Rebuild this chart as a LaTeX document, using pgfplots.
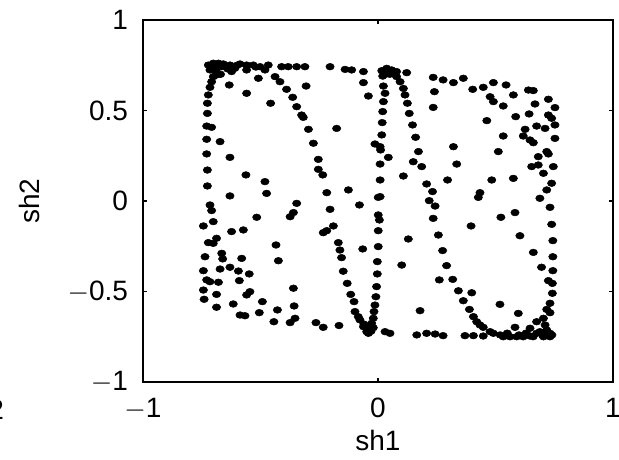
\documentclass[border=0pt]{standalone}
\usepackage{fontspec}
\setmainfont{Liberation Sans}
\usepackage{pgfplots}
\pgfplotsset{compat=1.18}

\pgfplotstableread{
x y
-0.722 0.751
-0.701 0.761
-0.679 0.761
-0.658 0.757
-0.715 0.724
-0.687 0.733
-0.665 0.742
-0.630 0.751
-0.609 0.733
-0.587 0.757
-0.559 0.751
-0.559 0.724
-0.531 0.751
-0.502 0.742
-0.467 0.751
-0.481 0.724
-0.438 0.687
-0.410 0.742
-0.382 0.742
-0.346 0.742
-0.311 0.742
-0.204 0.742
-0.140 0.727
-0.112 0.724
-0.062 0.715
0.016 0.720
0.037 0.733
0.058 0.724
0.079 0.715
0.122 0.709
-0.700 0.740
-0.690 0.720
-0.670 0.700
-0.640 0.730
-0.600 0.750
-0.520 0.740
0.040 0.710
0.050 0.700
0.030 0.700
0.060 0.710
0.020 0.690
0.070 0.700
-0.701 0.687
-0.687 0.696
-0.708 0.659
-0.715 0.628
-0.722 0.586
-0.726 0.540
-0.726 0.484
-0.729 0.414
-0.708 0.407
-0.729 0.341
-0.672 0.328
-0.729 0.260
-0.630 0.241
-0.726 0.171
-0.562 0.144
-0.481 0.107
-0.726 0.083
-0.630 0.028
-0.474 0.042
-0.623 0.715
-0.509 0.678
-0.417 0.659
-0.389 0.617
-0.363 0.573
-0.346 0.521
-0.325 0.475
-0.318 0.462
-0.296 0.396
-0.275 0.319
-0.254 0.230
-0.254 0.175
-0.235 0.144
-0.218 0.046
-0.633 0.641
-0.559 0.595
-0.457 0.540
-0.306 0.635
-0.176 0.401
-0.126 0.061
-0.062 0.654
-0.041 0.580
-0.013 0.315
0.009 0.300
0.044 0.241
0.023 0.635
0.030 0.595
0.023 0.549
0.020 0.494
0.018 0.433
0.016 0.365
0.011 0.282
0.009 0.204
0.009 0.116
0.009 0.024
0.079 0.687
0.094 0.659
0.108 0.622
0.115 0.586
0.125 0.540
0.133 0.484
0.147 0.420
0.160 0.352
0.172 0.273
0.150 0.217
0.186 0.190
0.207 0.094
0.232 0.052
0.108 0.138
0.235 0.683
0.277 0.669
0.321 0.654
0.363 0.678
0.240 0.604
0.235 0.517
0.321 0.300
0.335 0.204
0.296 0.116
0.403 0.617
0.448 0.628
0.491 0.654
0.545 0.641
0.477 0.576
0.491 0.549
0.533 0.525
0.576 0.586
0.640 0.613
0.661 0.610
0.725 0.562
0.668 0.536
0.753 0.516
0.463 0.444
0.586 0.466
0.643 0.481
0.725 0.475
0.739 0.457
0.626 0.396
0.675 0.414
0.711 0.401
0.753 0.420
0.533 0.359
0.618 0.359
0.647 0.337
0.661 0.322
0.753 0.346
0.512 0.273
0.682 0.245
0.718 0.273
0.725 0.260
0.654 0.190
0.682 0.199
0.746 0.190
0.704 0.153
0.739 0.098
0.484 0.116
0.576 0.125
0.718 0.061
0.434 0.046
0.427 0.020
0.689 0.015
-0.715 -0.022
-0.708 -0.053
-0.743 -0.138
-0.701 -0.114
-0.623 -0.169
-0.573 -0.160
-0.516 -0.090
-0.374 -0.087
-0.360 -0.064
-0.346 -0.013
-0.722 -0.230
-0.687 -0.206
-0.701 -0.234
-0.434 -0.243
-0.424 -0.330
-0.736 -0.308
-0.665 -0.289
-0.661 -0.320
-0.580 -0.317
-0.743 -0.385
-0.672 -0.376
-0.630 -0.366
-0.594 -0.387
-0.548 -0.403
-0.729 -0.436
-0.715 -0.446
-0.679 -0.449
-0.590 -0.440
-0.743 -0.492
-0.687 -0.516
-0.559 -0.519
-0.545 -0.501
-0.740 -0.543
-0.687 -0.587
-0.616 -0.569
-0.587 -0.630
-0.566 -0.634
-0.505 -0.617
-0.492 -0.556
-0.428 -0.602
-0.360 -0.482
-0.357 -0.580
-0.353 -0.648
-0.374 -0.672
-0.443 -0.667
-0.264 -0.672
-0.233 -0.698
-0.166 -0.688
-0.233 -0.175
-0.218 -0.164
-0.190 -0.138
-0.169 -0.230
-0.162 -0.271
-0.155 -0.313
-0.148 -0.388
-0.131 -0.455
-0.116 -0.516
-0.102 -0.556
-0.098 -0.611
-0.084 -0.639
-0.077 -0.657
-0.062 -0.694
-0.048 -0.722
-0.041 -0.731
-0.050 -0.700
-0.030 -0.720
-0.060 -0.680
-0.020 -0.700
0.001 0.020
0.001 -0.077
0.006 -0.105
0.001 -0.164
0.001 -0.252
-0.003 -0.335
-0.003 -0.403
-0.006 -0.473
-0.009 -0.529
-0.013 -0.575
-0.017 -0.611
-0.020 -0.648
-0.027 -0.676
-0.034 -0.709
-0.079 -0.022
-0.204 -0.046
-0.065 -0.265
0.129 -0.210
0.101 -0.354
0.179 -0.606
0.030 -0.722
0.051 -0.731
0.165 -0.740
0.207 -0.731
0.243 -0.735
0.277 -0.744
0.370 -0.744
0.406 -0.744
0.448 -0.746
0.477 -0.722
0.491 -0.731
0.533 -0.750
0.562 -0.750
0.590 -0.750
0.618 -0.750
0.647 -0.746
0.675 -0.731
0.704 -0.750
0.732 -0.750
0.520 -0.740
0.550 -0.730
0.600 -0.740
0.630 -0.730
0.660 -0.750
0.700 -0.740
0.720 -0.720
0.740 -0.740
0.519 -0.571
0.583 -0.698
0.597 -0.621
0.647 -0.703
0.218 0.002
0.243 -0.028
0.235 -0.096
0.257 -0.188
0.275 -0.274
0.292 -0.357
0.261 -0.436
0.318 -0.433
0.342 -0.496
0.363 -0.551
0.389 -0.599
0.406 -0.639
0.420 -0.667
0.434 -0.685
0.448 -0.698
0.399 -0.507
0.396 -0.138
0.523 -0.090
0.583 -0.064
0.604 -0.192
0.661 -0.284
0.732 -0.035
0.739 -0.129
0.744 -0.219
0.744 -0.308
0.696 -0.366
0.744 -0.385
0.725 -0.440
0.742 -0.455
0.742 -0.510
0.732 -0.565
0.718 -0.599
0.732 -0.617
0.704 -0.648
0.675 -0.667
0.711 -0.685
0.718 -0.713
0.689 -0.722
0.732 -0.731
}\shdata

\begin{document}
\begin{tikzpicture}
% fix the page to the reference's 619x460 px frame (1px = 0.75pt)
\path[use as bounding box] (-107.25pt,-58.5pt) rectangle (357pt,286.5pt);
% clipped fragment of a neighbouring label at the left edge
\node[anchor=east, inner sep=0pt, font=\fontsize{21}{25}\selectfont] at (-104pt,-21pt) {2};
\begin{axis}[
  at={(0,0)}, anchor=south west,
  scale only axis,
  width=352.5pt, height=271.5pt,
  xmin=-1, xmax=1, ymin=-1, ymax=1,
  xtick={-1,0,1}, ytick={-1,-0.5,0,0.5,1},
  xticklabels={$-$1,0,1},
  yticklabels={$-$1,$-$0.5,0,0.5,1},
  tick align=inside,
  major tick length=3pt,
  axis line style={black, line width=1pt},
  tick style={black, line width=1pt},
  font=\fontsize{21}{25}\selectfont,
  xticklabel style={inner sep=0pt, anchor=north, yshift=-12pt},
  yticklabel style={inner sep=0pt, anchor=east, xshift=-11pt},
  xlabel={sh1}, ylabel={sh2},
  xlabel style={at={(axis description cs:0.5,-0.190)}, anchor=base, inner sep=0pt},
  ylabel style={at={(axis description cs:-0.220,0.5)}, anchor=base, inner sep=0pt},
]
\addplot[only marks, mark=*, mark size=2.5pt, mark options={xscale=1.25, fill=black, draw=none}]
  table[x=x, y=y] {\shdata};
\end{axis}
\end{tikzpicture}
\end{document}
